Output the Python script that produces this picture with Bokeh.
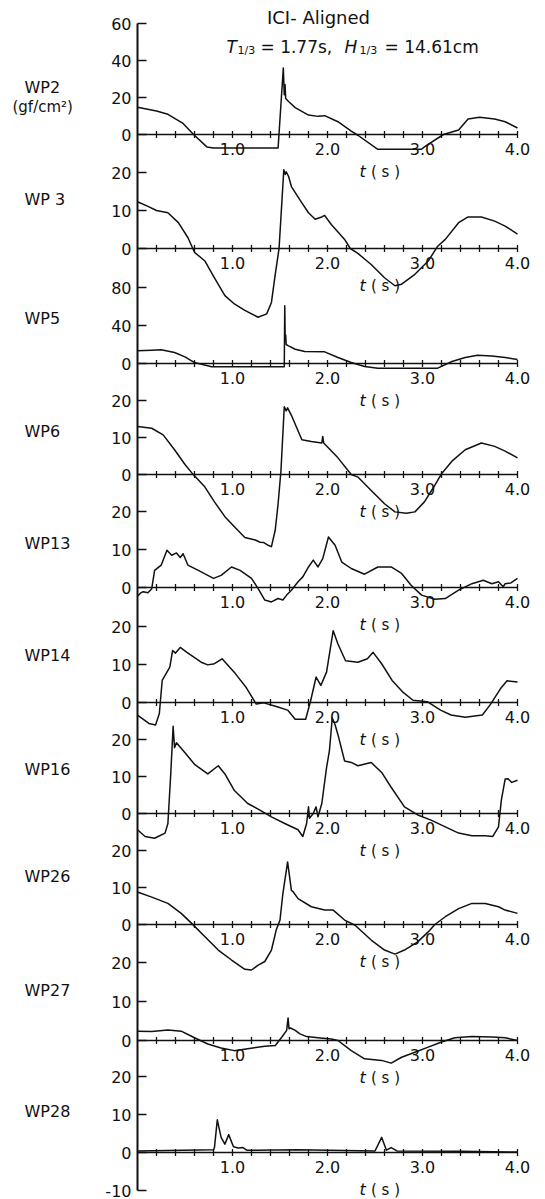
import numpy as np
from bokeh.plotting import figure
from bokeh.models import Range1d
from bokeh.core.properties import value
from bokeh.embed import file_html
from bokeh.resources import INLINE

# ---------------------------------------------------------------
# Impact pressure records (t in s, p in gf/cm^2), ICI - aligned case
# ---------------------------------------------------------------
wp2_t = [0.00, 0.20, 0.32, 0.48, 0.59, 0.73, 0.80, 1.48, 1.535, 1.545, 1.553, 1.56, 1.59, 1.66, 1.80,
         1.90, 1.97, 2.11, 2.25, 2.32, 2.53, 2.99, 3.02, 3.22, 3.38, 3.48, 3.60, 3.76, 3.87, 4.00]
wp2_p = [14.7, 12.7, 10.9, 6.0, 0.0, -6.7, -7.3, -7.3, 36.0, 21.5, 27.0, 19.5, 17.8, 14.5, 10.5,
         9.8, 10.2, 6.9, 1.8, -0.4, -8.0, -8.0, -6.7, 0.0, 2.4, 8.4, 9.3, 8.4, 6.9, 3.5]

wp3_t = [0.00, 0.11, 0.20, 0.32, 0.43, 0.53, 0.60, 0.71, 0.81, 0.92, 1.02, 1.13, 1.27, 1.36, 1.41,
         1.45, 1.49, 1.54, 1.555, 1.565, 1.59, 1.62, 1.73, 1.80, 1.87, 1.94, 1.97, 2.04, 2.18, 2.24,
         2.32, 2.46, 2.60, 2.71, 2.78, 2.92, 3.06, 3.16, 3.24, 3.38, 3.48, 3.62, 3.76, 3.87, 4.00]
wp3_p = [12.3, 11.1, 10.0, 9.4, 6.8, 2.9, -1.0, -3.3, -7.7, -12.4, -14.6, -16.3, -18.1, -17.2, -14.2,
         -6.8, 0.0, 20.7, 19.5, 20.2, 19.0, 16.3, 12.0, 9.4, 7.7, 8.3, 8.7, 6.3, 2.4, 0.0,
         -1.3, -4.2, -7.7, -9.8, -9.4, -6.8, -3.3, 0.6, 2.4, 6.8, 8.3, 8.3, 7.2, 5.9, 3.8]

wp5_t = [0.00, 0.15, 0.25, 0.39, 0.50, 0.60, 0.78, 1.545, 1.55, 1.555, 1.56, 1.565, 1.59, 1.66, 1.76,
         1.97, 2.11, 2.25, 2.39, 2.53, 3.16, 3.31, 3.45, 3.58, 3.73, 3.87, 4.00]
wp5_p = [13.3, 14.0, 14.4, 11.6, 7.0, 1.0, -3.5, -3.5, 60.7, 24.0, 30.0, 20.0, 18.6, 15.0, 12.6,
         12.3, 6.3, 1.0, -3.2, -4.9, -4.9, 2.1, 6.3, 8.8, 8.0, 6.3, 4.3]

wp6_t = [0.00, 0.15, 0.27, 0.39, 0.50, 0.57, 0.71, 0.81, 0.92, 1.02, 1.13, 1.24, 1.29, 1.33, 1.38,
         1.41, 1.45, 1.48, 1.51, 1.545, 1.565, 1.58, 1.62, 1.73, 1.83, 1.94, 1.95, 1.96, 2.11, 2.25,
         2.32, 2.46, 2.60, 2.71, 2.83, 2.92, 3.02, 3.13, 3.20, 3.31, 3.45, 3.62, 3.76, 3.87, 4.00]
wp6_p = [13.0, 12.5, 10.7, 6.7, 2.7, 0.5, -3.4, -7.4, -11.4, -14.1, -17.0, -17.7, -18.3, -18.4, -19.2,
         -19.5, -15.0, -7.9, 1.0, 18.3, 17.2, 18.0, 16.0, 9.4, 8.9, 8.5, 10.3, 8.5, 4.5, 0.0,
         -0.7, -4.3, -7.9, -10.1, -10.5, -10.1, -7.4, -2.9, 0.2, 3.6, 6.7, 8.5, 7.6, 6.3, 4.5]

wp13_t = [0.00, 0.03, 0.06, 0.11, 0.15, 0.18, 0.25, 0.31, 0.36, 0.41, 0.45, 0.48, 0.53, 0.64, 0.80,
          0.88, 0.99, 1.08, 1.20, 1.27, 1.34, 1.41, 1.48, 1.53, 1.57, 1.62, 1.69, 1.74, 1.80, 1.85,
          1.90, 1.95, 2.01, 2.08, 2.15, 2.25, 2.39, 2.53, 2.67, 2.78, 2.88, 2.99, 3.13, 3.24, 3.38,
          3.52, 3.64, 3.73, 3.80, 3.85, 3.87, 3.93, 4.00]
wp13_p = [-2.3, -1.5, -1.1, -1.4, -0.3, 4.5, 5.9, 9.8, 8.5, 9.1, 7.9, 8.9, 5.9, 4.5, 2.4,
          3.2, 5.4, 4.5, 2.4, -0.3, -3.3, -3.8, -2.9, -3.3, -2.0, -0.7, 1.5, 2.8, 5.4, 7.2,
          5.4, 7.6, 13.3, 11.1, 6.7, 5.0, 3.5, 5.4, 5.4, 3.7, 0.6, -2.0, -3.1, -2.9, -0.7,
          1.0, 1.9, 1.0, 1.5, 0.2, 1.0, 1.2, 2.4]

wp14_t = [0.00, 0.12, 0.19, 0.23, 0.26, 0.34, 0.37, 0.40, 0.45, 0.52, 0.67, 0.74, 0.81, 0.89, 1.03,
          1.14, 1.25, 1.33, 1.47, 1.58, 1.66, 1.77, 1.82, 1.88, 1.93, 1.99, 2.06, 2.11, 2.19, 2.32,
          2.42, 2.48, 2.57, 2.68, 2.79, 2.90, 3.05, 3.19, 3.30, 3.45, 3.63, 3.71, 3.82, 3.89, 4.00]
wp14_p = [-3.3, -5.5, -5.9, -2.9, 5.8, 9.3, 13.7, 13.0, 14.5, 13.2, 10.6, 9.9, 10.2, 11.5, 7.6,
          4.1, -0.4, -0.1, -1.1, -2.0, -4.4, -4.4, 0.2, 6.7, 4.5, 8.0, 18.9, 15.4, 11.0, 10.6,
          11.5, 13.2, 10.2, 5.8, 2.8, 0.6, 0.2, -2.0, -3.3, -3.9, -3.3, -0.7, 3.6, 5.7, 5.4]

wp16_t = [0.00, 0.08, 0.18, 0.29, 0.32, 0.35, 0.375, 0.39, 0.41, 0.50, 0.60, 0.74, 0.85, 0.92, 1.02,
          1.16, 1.27, 1.41, 1.55, 1.69, 1.74, 1.78, 1.80, 1.81, 1.85, 1.88, 1.90, 1.94, 1.99, 2.02,
          2.05, 2.08, 2.11, 2.18, 2.25, 2.32, 2.46, 2.57, 2.67, 2.81, 2.95, 3.09, 3.24, 3.38, 3.52,
          3.66, 3.74, 3.80, 3.83, 3.87, 3.90, 3.94, 4.00]
wp16_p = [-4.4, -6.2, -6.7, -5.3, -2.7, 10.7, 23.6, 17.8, 19.1, 16.4, 13.3, 10.7, 12.9, 10.7, 6.2,
          2.7, 1.2, -0.9, -2.7, -4.4, -6.2, -2.7, 1.8, -1.3, 0.0, 1.8, -0.9, 2.7, 12.4, 16.9,
          25.8, 24.0, 21.3, 14.2, 13.8, 12.9, 13.8, 11.1, 7.1, 1.8, -0.4, -1.8, -3.6, -5.3, -6.0,
          -6.0, -6.2, -3.6, 3.6, 9.3, 9.4, 8.4, 9.0]

wp26_t = [0.00, 0.15, 0.32, 0.46, 0.57, 0.71, 0.85, 0.99, 1.13, 1.20, 1.27, 1.34, 1.41, 1.46, 1.50,
          1.53, 1.58, 1.62, 1.64, 1.69, 1.83, 1.97, 2.06, 2.18, 2.29, 2.46, 2.60, 2.71, 2.81, 2.95,
          3.06, 3.13, 3.24, 3.38, 3.52, 3.66, 3.80, 3.87, 4.00]
wp26_p = [8.8, 7.4, 5.7, 3.0, 0.3, -3.3, -6.9, -9.6, -12.1, -12.3, -11.0, -10.0, -6.9, -1.5, 1.2,
          8.3, 16.9, 9.2, 8.8, 7.0, 4.8, 3.9, 3.9, 1.2, -0.2, -4.2, -6.9, -8.0, -6.9, -4.7,
          -2.0, 0.0, 2.1, 4.3, 5.7, 5.7, 4.8, 3.9, 3.0]

wp27_t = [0.00, 0.15, 0.32, 0.46, 0.60, 0.74, 0.88, 1.02, 1.16, 1.34, 1.45, 1.52, 1.57, 1.585, 1.595,
          1.61, 1.66, 1.71, 1.78, 1.90, 2.04, 2.11, 2.25, 2.39, 2.57, 2.67, 2.78, 2.92, 3.06, 3.20,
          3.34, 3.52, 3.73, 3.87, 4.00]
wp27_p = [2.4, 2.3, 2.7, 2.4, 0.7, -0.9, -1.9, -2.6, -2.1, -1.5, -1.3, 0.9, 2.6, 5.8, 3.0,
          3.2, 2.6, 1.7, 1.0, 0.7, 0.4, 0.0, -2.6, -4.7, -5.1, -5.8, -4.3, -3.0, -1.7, -0.4,
          0.7, 1.0, 0.9, 0.7, 0.0]

wp28_t = [0.00, 0.80, 0.81, 0.84, 0.88, 0.92, 0.96, 1.01, 1.06, 1.11, 1.15, 1.69, 2.50, 2.57, 2.62,
          2.67, 2.73, 3.40, 4.00]
wp28_p = [0.4, 0.7, 1.3, 8.6, 4.0, 2.2, 4.7, 1.5, 1.2, 1.3, 0.6, 0.7, 0.4, 4.0, 0.6,
          1.3, 0.4, 0.3, 0.1]

channels = ["WP2", "WP3", "WP5", "WP6", "WP13", "WP14", "WP16", "WP26", "WP27", "WP28"]
records = {
    "WP2": (wp2_t, wp2_p), "WP3": (wp3_t, wp3_p), "WP5": (wp5_t, wp5_p),
    "WP6": (wp6_t, wp6_p), "WP13": (wp13_t, wp13_p), "WP14": (wp14_t, wp14_p),
    "WP16": (wp16_t, wp16_p), "WP26": (wp26_t, wp26_p), "WP27": (wp27_t, wp27_p),
    "WP28": (wp28_t, wp28_p),
}
channel_names = ["WP2", "WP 3", "WP5", "WP6", "WP13", "WP14", "WP16", "WP26", "WP27", "WP28"]

# pressure tick values shown for each channel
p_ticks = {
    "WP2": [0, 20, 40, 60], "WP3": [0, 10, 20], "WP5": [0, 40, 80], "WP6": [0, 10, 20],
    "WP13": [0, 10, 20], "WP14": [0, 10, 20], "WP16": [0, 10, 20], "WP26": [0, 10, 20],
    "WP27": [0, 10, 20], "WP28": [-10, 0, 10, 20],
}
p_step = {"WP2": 20, "WP5": 40}          # others step by 10

# time axis
t_end = 4.0
t_minor = np.round(np.arange(0.2, t_end + 1e-9, 0.2), 2)
t_major = [1.0, 2.0, 3.0, 4.0]
t_major_labels = ["1.0", "2.0", "3.0", "4.0"]

# ---------------------------------------------------------------
# Layout (page pixels)
# ---------------------------------------------------------------
W, H = 545, 1199
AXIS_X = 137           # page x of t = 0
PX_PER_S = 95          # horizontal scale
zero_row = {"WP2": 134, "WP3": 248, "WP5": 363, "WP6": 474, "WP13": 587,
            "WP14": 702, "WP16": 813, "WP26": 924, "WP27": 1040, "WP28": 1152}
step_px = {"WP2": 37, "WP3": 38, "WP5": 38, "WP6": 37, "WP13": 38,
           "WP14": 38, "WP16": 37, "WP26": 37, "WP27": 39, "WP28": 38}
name_row = {"WP2": 87, "WP3": 199, "WP5": 318, "WP6": 431, "WP13": 543,
            "WP14": 655, "WP16": 769, "WP26": 876, "WP27": 990, "WP28": 1111}
NAME_X = 24
TICK_LEN = 9
FONT = value("DejaVu Sans")
INK = "#111111"


def t_at(px):
    """time coordinate of a page x position"""
    return (px - AXIS_X) / PX_PER_S


# one frame covering the whole page; default y range counts page rows
p = figure(width=W, height=H,
           x_range=Range1d(t_at(0), t_at(W)),
           y_range=Range1d(H, 0),
           min_border=0, x_axis_location=None, y_axis_location=None,
           toolbar_location=None, output_backend="svg")
p.outline_line_color = None
p.grid.visible = False
p.background_fill_color = "white"
p.border_fill_color = "white"

# shared pressure axis: one tick set per channel band
rows, labels = [], []
for ch in channels:
    s = step_px[ch] / p_step.get(ch, 10)
    for v in p_ticks[ch]:
        rows.append(zero_row[ch] - v * s)
        labels.append(str(v))

p.segment(x0=[0], y0=[min(rows)], x1=[0], y1=[max(rows)], line_color=INK, line_width=2)
p.segment(x0=[0] * len(rows), y0=rows, x1=[TICK_LEN / PX_PER_S] * len(rows), y1=rows,
          line_color=INK, line_width=1.5)
p.text([0] * len(rows), rows, text=labels, x_offset=-6, text_align="right",
       text_baseline="middle", text_font=FONT, text_font_size="16px", text_color=INK)

for ch in channels:
    s = step_px[ch] / p_step.get(ch, 10)
    z = zero_row[ch]
    p.extra_y_ranges[ch] = Range1d(start=(z - H) / s, end=z / s)
    t, v = records[ch]

    # time axis of the band
    p.line([0, t_end], [0, 0], y_range_name=ch, line_color=INK, line_width=1.7)
    p.scatter(t_minor, np.zeros_like(t_minor), y_range_name=ch, marker="dash",
              angle=np.pi / 2, size=7, line_color=INK, line_width=1.3)
    p.text(t_major, [0] * len(t_major), text=t_major_labels, y_range_name=ch,
           y_offset=8, text_align="center", text_baseline="top",
           text_font=FONT, text_font_size="16px", text_color=INK)
    p.text([2.37], [0], text=["t"], y_range_name=ch, y_offset=37,
           text_align="center", text_baseline="middle", text_font=FONT,
           text_font_style="italic", text_font_size="16px", text_color=INK)
    p.text([2.61], [0], text=["( s )"], y_range_name=ch, y_offset=37,
           text_align="center", text_baseline="middle", text_font=FONT,
           text_font_size="15px", text_color=INK)

    # pressure trace
    p.line(t, v, y_range_name=ch, line_color=INK, line_width=1.5, line_join="round")

# channel names on the left
p.text([t_at(NAME_X)] * len(channels), [name_row[ch] for ch in channels], text=channel_names,
       text_baseline="middle", text_font=FONT, text_font_size="16px", text_color=INK)
p.text([t_at(12)], [106], text=["(gf/cm²)"], text_baseline="middle", text_font=FONT,
       text_font_size="15px", text_color=INK)

# heading
p.text([t_at(318)], [17], text=["ICI- Aligned"], text_align="center", text_baseline="middle",
       text_font=FONT, text_font_size="18px", text_color=INK)
heading = [
    (226, 46, "T", "italic", "17px"),
    (237, 50, "1/3", "normal", "11px"),
    (260, 46, "= 1.77s,", "normal", "17px"),
    (344, 46, "H", "italic", "17px"),
    (359, 50, "1/3", "normal", "11px"),
    (384, 46, "= 14.61cm", "normal", "17px"),
]
for x0, r0, txt, style, size in heading:
    p.text([t_at(x0)], [r0], text=[txt], text_baseline="middle", text_font=FONT,
           text_font_style=style, text_font_size=size, text_color=INK)

open("out.html", "w").write(file_html(p, INLINE))
